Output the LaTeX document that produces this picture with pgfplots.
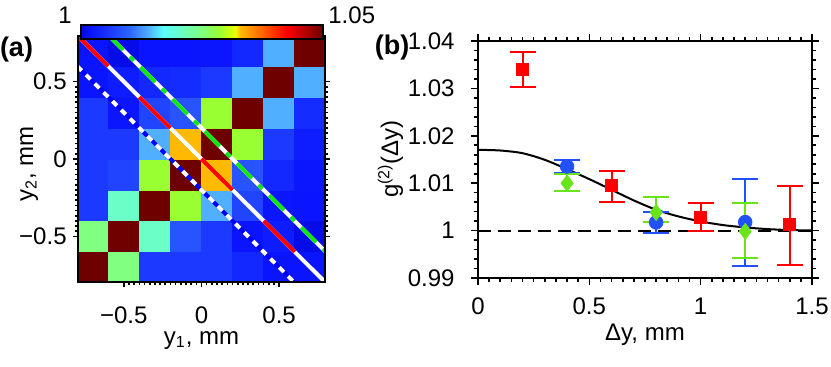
\documentclass[border=0pt]{standalone}
\usepackage{fontspec}
\setmainfont{Liberation Sans}
\usepackage{pgfplots}
\pgfplotsset{compat=1.18}
\usepackage{pgfplotstable}
\usetikzlibrary{calc}

\definecolor{mblue}{RGB}{35,80,255}
\definecolor{mgreen}{RGB}{105,228,25}
\definecolor{lgreen}{RGB}{20,230,20}
\definecolor{dblue}{RGB}{0,0,255}

\pgfplotsset{colormap={gmap}{
 rgb255(0pt)=(5,10,225);
 rgb255(4pt)=(10,20,255);
 rgb255(12pt)=(28,58,255);
 rgb255(20pt)=(45,100,255);
 rgb255(28pt)=(80,176,255);
 rgb255(34pt)=(90,255,255);
 rgb255(50pt)=(128,255,128);
 rgb255(57pt)=(153,255,51);
 rgb255(64pt)=(235,255,0);
 rgb255(65.5pt)=(255,190,0);
 rgb255(85pt)=(255,0,0);
 rgb255(100pt)=(110,0,0)}}

% heat map g2(y1,y2)
\pgfplotstableread{
x y c
-0.7 -0.7 1.05
-0.5 -0.7 1.025
-0.3 -0.7 1.006
-0.1 -0.7 1.006
0.1 -0.7 1.006
0.3 -0.7 1.004
0.5 -0.7 1.002
0.7 -0.7 1.002
-0.7 -0.5 1.025
-0.5 -0.5 1.05
-0.3 -0.5 1.0205
-0.1 -0.5 1.0085
0.1 -0.5 1.006
0.3 -0.5 1.002
0.5 -0.5 1.003
0.7 -0.5 1.0005
-0.7 -0.3 1.006
-0.5 -0.3 1.0205
-0.3 -0.3 1.05
-0.1 -0.3 1.0285
0.1 -0.3 1.014
0.3 -0.3 1.007
0.5 -0.3 1.00225
0.7 -0.3 1.002
-0.7 -0.1 1.006
-0.5 -0.1 1.007
-0.3 -0.1 1.0285
-0.1 -0.1 1.05
0.1 -0.1 1.033
0.3 -0.1 1.0085
0.5 -0.1 1.004
0.7 -0.1 1.00225
-0.7 0.1 1.006
-0.5 0.1 1.006
-0.3 0.1 1.014
-0.1 0.1 1.033
0.1 0.1 1.05
0.3 0.1 1.0285
0.5 0.1 1.006
0.7 0.1 1.003
-0.7 0.3 1.006
-0.5 0.3 1.00225
-0.3 0.3 1.007
-0.1 0.3 1.0085
0.1 0.3 1.0285
0.3 0.3 1.05
0.5 0.3 1.014
0.7 0.3 1.0045
-0.7 0.5 1.002
-0.5 0.5 1.003
-0.3 0.5 1.004
-0.1 0.5 1.0045
0.1 0.5 1.006
0.3 0.5 1.014
0.5 0.5 1.05
0.7 0.5 1.014
-0.7 0.7 1.002
-0.5 0.7 1.0005
-0.3 0.7 1.002
-0.1 0.7 1.002
0.1 0.7 1.00225
0.3 0.7 1.004
0.5 0.7 1.014
0.7 0.7 1.05
}\heat

\pgfplotstableread{
x y ep em
0.2 1.0340 0.0037 0.0038
0.6 1.00945 0.0032 0.0034
1.0 1.00285 0.0029 0.0030
1.4 1.00138 0.0081 0.0086
}\tRed

\pgfplotstableread{
x y ep em
0.4 1.01353 0.0014 0.0014
0.8 1.00173 0.0022 0.0023
1.2 1.0018 0.0091 0.0092
}\tBlue

\pgfplotstableread{
x y ep em
0.4 1.0100 0.0019 0.0017
0.8 1.00383 0.0032 0.0021
1.2 0.99983 0.0059 0.0056
}\tGreen

\begin{document}
\fontsize{12}{14}\selectfont
\begin{tikzpicture}
\useasboundingbox (-39pt,-42pt) rectangle (376.5pt,141pt);
\begin{axis}[name=pa, at={(0,0)}, anchor=south west,
  scale only axis, width=123.5pt, height=123pt,
  xmin=-0.795, xmax=0.795, ymin=-0.795, ymax=0.795,
  enlargelimits=false, axis on top,
  colormap name=gmap, point meta min=1, point meta max=1.05,
  colorbar horizontal,
  colorbar style={at={($(parent axis.north west)+(1.5pt,7pt)$)}, anchor=south west,
     scale only axis, width=121pt, height=7pt, xtick=\empty, ytick=\empty,
     axis line style={line width=1pt}},
  xtick={-0.5,0,0.5}, xticklabels={−0.5,0,0.5},
  ytick={-0.5,0,0.5}, yticklabels={−0.5,0,0.5},
  minor x tick num=14, minor y tick num=14,
  tick align=outside, major tick length=2.5pt, minor tick length=1.5pt,
  tick style={line width=0.8pt, black},
  axis line style={line width=1.2pt},
  xticklabel style={anchor=base, inner sep=0pt, yshift=-18pt},
  yticklabel style={anchor=east, inner sep=0pt, xshift=-3pt},
  xlabel={y\textsubscript{1}, mm}, ylabel={y\textsubscript{2}, mm},
  xlabel style={at={(axis description cs:0.5,-0.252)}, anchor=base, inner sep=0pt},
  ylabel style={at={(axis description cs:-0.182,0.48)}, anchor=base, inner sep=0pt},
]
\addplot[matrix plot*, mesh/cols=8, point meta=explicit] table[x=x, y=y, meta=c] {\heat};
% white/red line y2 = -y1
\addplot[white, line width=2pt] coordinates {(-0.8,0.8) (0.8,-0.8)};
\addplot[red, line width=2pt, unbounded coords=jump] coordinates {
 (-0.8,0.8) (-0.6,0.6) (-0.5,nan) (-0.4,0.4) (-0.2,0.2) (-0.1,nan)
 (0,0) (0.2,-0.2) (0.3,nan) (0.4,-0.4) (0.6,-0.6)};
% white/green line
\addplot[white, line width=2pt] coordinates {(-0.6,0.8) (0.8,-0.6)};
\addplot[lgreen, line width=2pt, dash pattern=on 10.5pt off 4.7pt on 2.8pt off 4.7pt] coordinates {(-0.6,0.8) (0.8,-0.6)};
% blue/white dotted line
\addplot[dblue, line width=2pt] coordinates {(-0.8,0.6) (0.6,-0.8)};
\addplot[white, line width=2pt, dash pattern=on 3.2pt off 3pt] coordinates {(-0.8,0.6) (0.6,-0.8)};
\end{axis}

\begin{axis}[name=pb, at={(200pt,2pt)}, anchor=south west,
  scale only axis, width=167pt, height=118.5pt,
  xmin=0, xmax=1.5, ymin=0.99, ymax=1.04,
  xtick={0,0.5,1,1.5}, xticklabels={0,0.5,1,1.5},
  ytick={0.99,1,1.01,1.02,1.03,1.04}, yticklabels={0.99,1,1.01,1.02,1.03,1.04},
  minor x tick num=9, minor y tick num=4,
  tick align=outside, major tick length=3.5pt, minor tick length=2pt,
  tick style={line width=0.8pt, black},
  axis line style={line width=1.2pt},
  xticklabel style={anchor=base, inner sep=0pt, yshift=-14.5pt},
  yticklabel style={anchor=east, inner sep=0pt, xshift=-8pt},
  xlabel={Δy, mm}, ylabel={g\textsuperscript{(2)}(Δy)},
  xlabel style={at={(axis description cs:0.5,-0.262)}, anchor=base, inner sep=0pt},
  ylabel style={at={(axis description cs:-0.2395,0.502)}, anchor=base, inner sep=0pt},
]
\addplot[black, line width=1pt, dash pattern=on 6.5pt off 3.5pt] coordinates {(0,1) (1.5,1)};
\addplot[black, line width=1pt, smooth] coordinates {
 (0,1.01704) (0.1,1.01690) (0.2,1.01633) (0.3,1.01493) (0.4,1.01296)
 (0.5,1.01086) (0.6,1.00861) (0.7,1.00636) (0.8,1.00440) (0.9,1.00299)
 (1.0,1.00194) (1.1,1.00117) (1.2,1.00067) (1.3,1.00032) (1.4,1.00011) (1.5,1.00004)};
\addplot[red, only marks, mark=square*, mark size=3pt,
  error bars/.cd, y dir=both, y explicit,
  error bar style={line width=1pt, red},
  error mark options={rotate=90, mark size=6.5pt, line width=1pt, red}]
  table[x=x, y=y, y error plus=ep, y error minus=em] {\tRed};
\addplot[mblue, only marks, mark=*, mark size=3.4pt,
  error bars/.cd, y dir=both, y explicit,
  error bar style={line width=1pt, mblue},
  error mark options={rotate=90, mark size=6.5pt, line width=1pt, mblue}]
  table[x=x, y=y, y error plus=ep, y error minus=em] {\tBlue};
\addplot[mgreen, only marks, mark=diamond*, mark size=4pt,
  error bars/.cd, y dir=both, y explicit,
  error bar style={line width=1pt, mgreen},
  error mark options={rotate=90, mark size=6.5pt, line width=1pt, mgreen}]
  table[x=x, y=y, y error plus=ep, y error minus=em] {\tGreen};
\end{axis}

\node[font=\fontsize{13.5}{15}\selectfont\bfseries] at ($(pa.north west)+(-30.75pt,-7pt)$) {(a)};
\node[font=\fontsize{13.5}{15}\selectfont\bfseries] at ($(pb.north west)+(-43pt,-3.5pt)$) {(b)};
\node[anchor=east, inner sep=0pt] at ($(pa.north west)+(-3pt,10.5pt)$) {1};
\node[anchor=west, inner sep=0pt] at ($(pa.north west)+(125pt,10.5pt)$) {1.05};
\end{tikzpicture}
\end{document}
